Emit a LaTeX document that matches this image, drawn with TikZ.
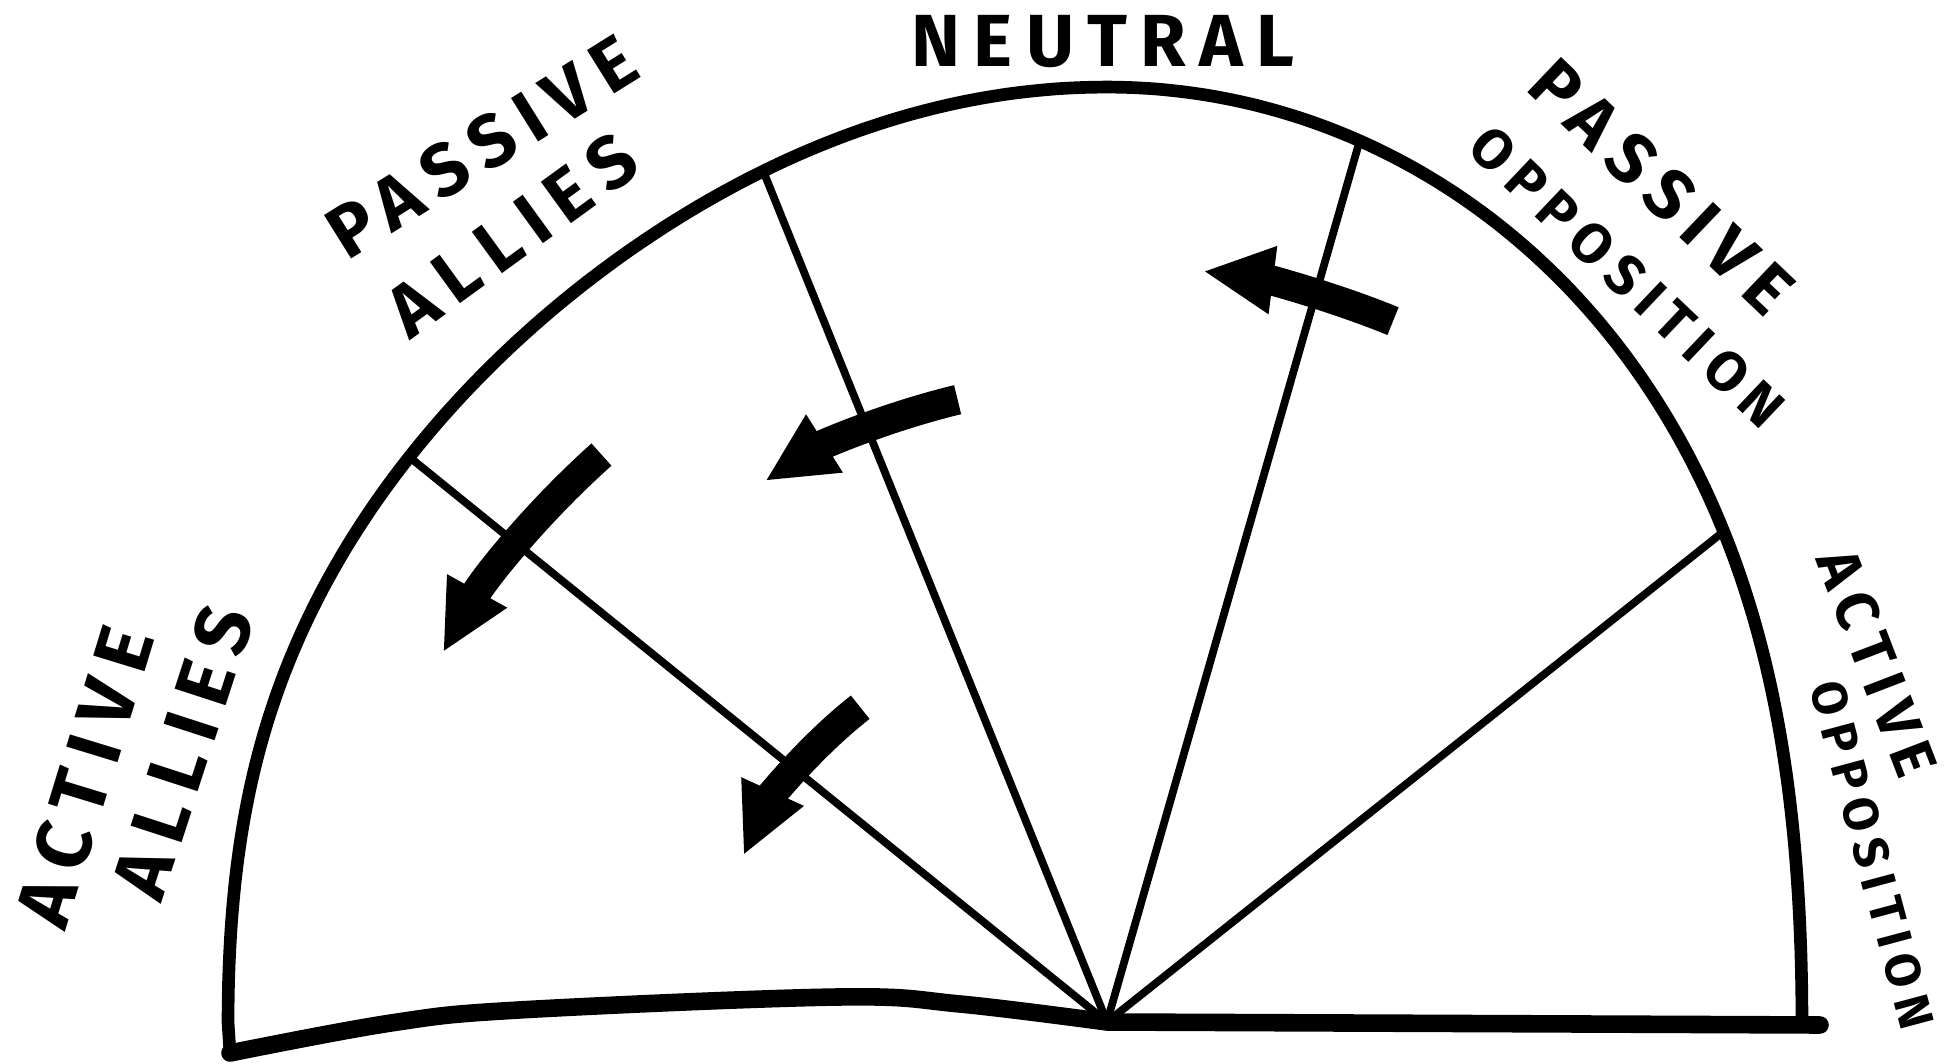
\documentclass[tikz,border=0pt]{standalone}
\usepackage{fontspec}
\newfontfamily\handfont[LetterSpace=18]{Fira Sans}
\usetikzlibrary{arrows.meta,calc}

\tikzset{
  outline/.style={line width=3.6pt, line join=round, line cap=round},
  base/.style={line width=5pt, line join=round, line cap=round},
  divider/.style={line width=2.2pt},
  shift arrow/.style={line width=8.5pt, -{Triangle[length=20pt, width=18pt]}},
  tag/.style={inner sep=0pt, font=\handfont\bfseries\fontsize{#1}{#1}\selectfont},
  tag/.default=20,
  declare function={rimL(\t)=897+38*sin(\t)^8-18*abs(cos(\t))^20; rimR(\t)=695+240*sin(\t)^2;},
}

\begin{document}
\begin{tikzpicture}[x=0.01cm, y=-0.01cm]
\useasboundingbox (0,0) rectangle (1951,1064);

% Rim and base
\coordinate (hub) at (1107,1022);
\coordinate (bl) at (230,1053);
\coordinate (br) at (1820,1025);
\draw[outline] (bl) -- plot[domain=180:90, samples=60, smooth] ({1107+rimL(\x)*cos(\x)}, {1022-rimL(\x)*sin(\x)})
  -- plot[domain=90:0, samples=60, smooth] ({1107+rimR(\x)*cos(\x)}, {1022-rimR(\x)*sin(\x)}) -- (1802,1025);
\draw[base] plot[smooth, tension=0.6] coordinates {(230,1053) (391,1023) (519,1010) (838,997) (960,1004) (1107,1022)} -- (br);

% Dividers
\foreach \a [count=\i] in {141, 112} {
  \coordinate (rim\i) at ({1107+rimL(\a)*cos(\a)}, {1022-rimL(\a)*sin(\a)});
  \draw[divider] (hub) -- (rim\i);
}
\foreach \a [count=\i from 3] in {74, 38.5} {
  \coordinate (rim\i) at ({1107+rimR(\a)*cos(\a)}, {1022-rimR(\a)*sin(\a)});
  \draw[divider] (hub) -- (rim\i);
}

% Shifts toward the allies (arcs round the hub)
\foreach \a/\b/\r [count=\i] in {-67.8/-82.7/757, -103.5/-122.3/640, -131.7/-150.9/760, -128.1/-155.4/400} {
  \coordinate (tail\i) at ($(hub)+(\a:\r)$);
  \draw[shift arrow] (tail\i) arc[start angle=\a, end angle=\b, radius=\r];
}

% Labels
\foreach \n/\x/\y/\a/\s/\t in {neutral/1103/42/0/21/NEUTRAL, pasAll/482/147/32/21/PASSIVE, pasAllB/512/235/36/21/ALLIES, pasOpp/1662/187/-43.6/20/PASSIVE, pasOppB/1627/277/-43.5/16/OPPOSITION, actAll/85/777/73/22/ACTIVE, actAllB/183/752/72/22/ALLIES, actOpp/1877/663/-69/17/ACTIVE, actOppB/1872/855/-75/14/OPPOSITION} {
  \node[tag=\s, rotate=\a] (\n) at (\x,\y) {\t};
}
\end{tikzpicture}
\end{document}
